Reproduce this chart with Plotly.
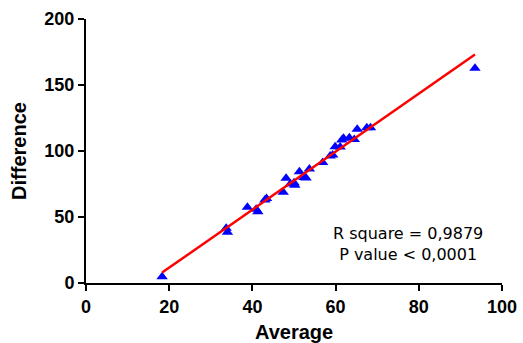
import numpy as np
import plotly.graph_objects as go

average = [18.3, 33.7, 34.0, 38.8, 40.9, 41.3, 43.0, 43.4, 47.4, 48.1, 49.1, 50.0, 50.2,
           51.3, 52.4, 52.9, 53.7, 56.9, 58.7, 59.3, 59.9, 61.1, 61.5, 61.9, 63.3, 64.5,
           65.2, 67.5, 68.4, 93.5]
difference = [4.8, 41.4, 38.4, 57.3, 55.8, 54.0, 62.9, 64.0, 68.7, 79.3, 75.0, 76.0, 74.0,
              84.3, 80.0, 79.5, 86.4, 91.2, 96.2, 97.0, 103.3, 103.0, 108.3, 109.6, 110.0,
              108.8, 116.4, 117.7, 117.7, 162.6]
annotation_lines = ["R square = 0,9879", "P value < 0,0001"]
x_ticks = [0, 20, 40, 60, 80, 100]
y_ticks = [0, 50, 100, 150, 200]

slope, intercept = np.polyfit(average, difference, 1)
fit_x = [min(average), max(average)]
fit_y = [slope * v + intercept for v in fit_x]

fig = go.Figure()
fig.add_trace(go.Scatter(x=average, y=difference, mode="markers",
                         marker=dict(symbol="triangle-up", size=10, color="#0000FF",
                                     line=dict(width=0)),
                         showlegend=False, cliponaxis=False))
fig.add_trace(go.Scatter(x=fit_x, y=fit_y, mode="lines",
                         line=dict(color="#FF0000", width=2.5),
                         showlegend=False))

font_main = "Arial, Liberation Sans, sans-serif"
fig.update_layout(
    width=523, height=343,
    margin=dict(l=86, r=21, t=19, b=60),
    plot_bgcolor="white", paper_bgcolor="white",
    font=dict(family=font_main, color="black"),
    xaxis=dict(range=[0, 100], tickvals=x_ticks, showgrid=False, zeroline=False,
               showline=True, linecolor="black", linewidth=2, automargin=False,
               ticks="outside", ticklen=6, tickwidth=2, tickcolor="black",
               tickfont=dict(size=18, family=font_main, weight="bold")),
    yaxis=dict(range=[0, 200], tickvals=y_ticks, showgrid=False, zeroline=False,
               showline=True, linecolor="black", linewidth=2, automargin=False,
               ticks="outside", ticklen=6, tickwidth=2, tickcolor="black",
               tickfont=dict(size=18, family=font_main, weight="bold"),
               title=dict(text="<b>Difference</b>", font=dict(size=20), standoff=12)),
    annotations=[
        dict(x=0.774, y=0.148, xref="paper", yref="paper",
             xanchor="center", yanchor="middle",
             text="<br>".join(annotation_lines), showarrow=False,
             font=dict(size=16, family="DejaVu Sans, Arial, sans-serif"),
             align="center"),
        dict(x=0.5, y=-0.138, xref="paper", yref="paper",
             xanchor="center", yanchor="top", showarrow=False,
             text="<b>Average</b>", font=dict(size=20, family=font_main)),
    ],
)
fig.write_html("out.html", config={"displayModeBar": False},
               post_script="document.body.style.margin='0';document.body.style.overflow='hidden';")
